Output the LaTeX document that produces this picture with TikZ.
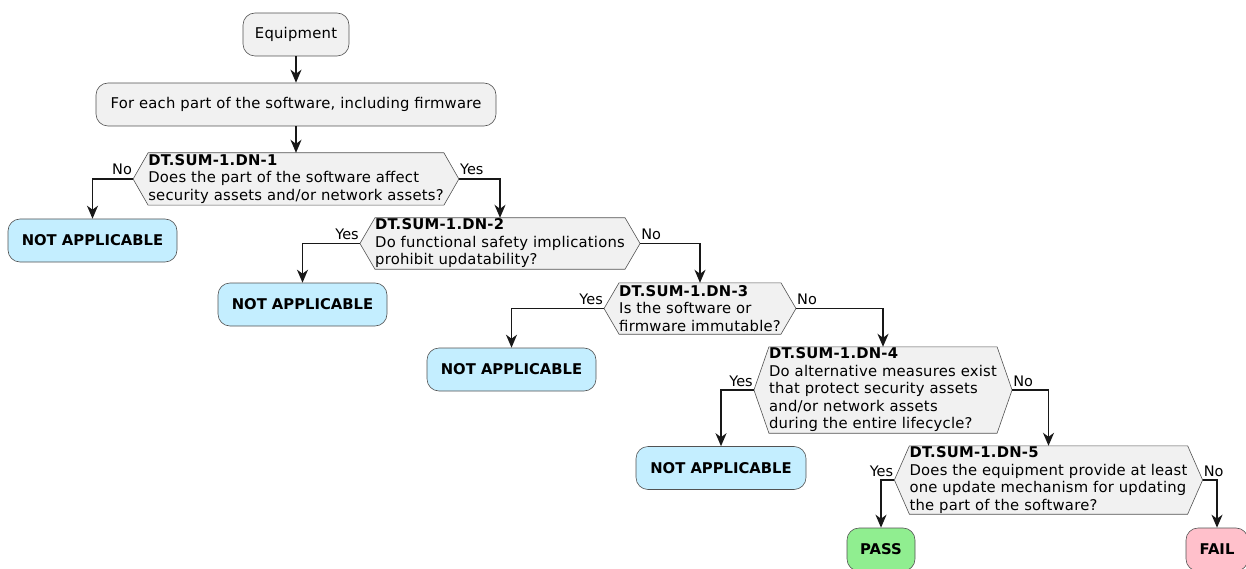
\documentclass[tikz,border=0pt]{standalone}
\usepackage{fontspec}
\setmainfont{DejaVu Sans}
\newfontfamily\qfont[LetterSpace=1.5]{DejaVu Sans}
\usetikzlibrary{arrows.meta,calc,backgrounds}
\definecolor{boxfill}{HTML}{F1F1F1}
\definecolor{boxline}{HTML}{181818}
\definecolor{nafill}{HTML}{C4EEFF}
\definecolor{passfill}{HTML}{90EE90}
\definecolor{failfill}{HTML}{FFC0CB}
\tikzset{
 base/.style={font=\qfont\fontsize{14.8}{17.5}\selectfont},
 act/.style={base, draw=boxline!75, line width=0.6pt, rounded corners=12pt, fill=boxfill, minimum height=43pt, inner sep=0pt},
 result/.style={act, font=\fontsize{14.8}{17.5}\selectfont\bfseries},
 q/.style={base, align=left, inner sep=0pt},
 hex/.style={draw=boxline!75, fill=boxfill, line width=0.6pt},
 flow/.style={draw=boxline, line width=1.5pt, -{Stealth[length=13pt,width=11pt,inset=4pt]}},
 lbl/.style={font=\fontsize{14.5}{16}\selectfont, inner sep=0pt}
}
\newcommand\hexdraw[1]{%
  \coordinate (#1-l) at ($(#1.west)+(-15,0)$);
  \coordinate (#1-r) at ($(#1.east)+(15,0)$);
  \begin{scope}[on background layer]
  \draw[hex] (#1.north west) -- (#1.north east) -- (#1-r) -- (#1.south east) -- (#1.south west) -- (#1-l) -- cycle;
  \end{scope}}
\begin{document}
\begin{tikzpicture}[x=1pt,y=-1pt]
\useasboundingbox (0,0) rectangle (1246,569);
\clip (0,0) rectangle (1246,569);

\node[act, minimum width=106pt] (equip) at (296,34.5) {Equipment};
\node[act, minimum width=400pt] (each) at (296,104.5) {For each part of the software, including firmware};

\node[q, minimum height=52pt] (dn1) at (296,179) {\textbf{DT.SUM-1.DN-1}\\Does the part of the software affect\\security assets and/or network assets?};
\hexdraw{dn1}
\node[result, fill=nafill, minimum width=169pt] (na1) at (92.5,240.5) {NOT APPLICABLE};

\node[q, minimum height=51pt] (dn2) at (500,243.5) {\textbf{DT.SUM-1.DN-2}\\Do functional safety implications\\prohibit updatability?};
\hexdraw{dn2}
\node[result, fill=nafill, minimum width=169pt] (na2) at (302.5,304.5) {NOT APPLICABLE};

\node[q, minimum height=51pt] (dn3) at (700,308.5) {\textbf{DT.SUM-1.DN-3}\\Is the software or\\firmware immutable?};
\hexdraw{dn3}
\node[result, fill=nafill, minimum width=169pt] (na3) at (511.5,369.5) {NOT APPLICABLE};

\node[q, minimum height=86pt] (dn4) at (883,390) {\textbf{DT.SUM-1.DN-4}\\Do alternative measures exist\\that protect security assets\\and/or network assets\\during the entire lifecycle?};
\hexdraw{dn4}
\node[result, fill=nafill, minimum width=170pt] (na4) at (721,468) {NOT APPLICABLE};

\node[q, minimum height=68pt] (dn5) at (1048.5,480) {\textbf{DT.SUM-1.DN-5}\\Does the equipment provide at least\\one update mechanism for updating\\the part of the software?};
\hexdraw{dn5}
\node[result, fill=passfill, minimum width=68pt] (pass) at (881,549.5) {PASS};
\node[result, fill=failfill, minimum width=62pt] (fail) at (1217,549.5) {FAIL};

\draw[flow] (equip) -- (each);
\draw[flow] (each) -- (dn1);

\draw[flow] (dn1-l) -| (na1);
\node[lbl, anchor=base east] (l1n) at ($(dn1-l)+(-1,-4)$) {No};
\draw[flow] (dn1-r) -| (dn2);
\node[lbl, anchor=base west] (l1y) at ($(dn1-r)+(1,-4)$) {Yes};

\draw[flow] (dn2-l) -| (na2);
\node[lbl, anchor=base east] (l2y) at ($(dn2-l)+(-1,-4)$) {Yes};
\draw[flow] (dn2-r) -| (dn3);
\node[lbl, anchor=base west] (l2n) at ($(dn2-r)+(1,-4)$) {No};

\draw[flow] (dn3-l) -| (na3);
\node[lbl, anchor=base east] (l3y) at ($(dn3-l)+(-1,-4)$) {Yes};
\draw[flow] (dn3-r) -| (dn4);
\node[lbl, anchor=base west] (l3n) at ($(dn3-r)+(1,-4)$) {No};

\draw[flow] (dn4-l) -| (na4);
\node[lbl, anchor=base east] (l4y) at ($(dn4-l)+(-1,-4)$) {Yes};
\draw[flow] (dn4-r) -| (dn5);
\node[lbl, anchor=base west] (l4n) at ($(dn4-r)+(1,-4)$) {No};

\draw[flow] (dn5-l) -| (pass);
\node[lbl, anchor=base east] (l5y) at ($(dn5-l)+(-1,-4)$) {Yes};
\draw[flow] (dn5-r) -| (fail);
\node[lbl, anchor=base west] (l5n) at ($(dn5-r)+(1,-4)$) {No};
\end{tikzpicture}
\end{document}
